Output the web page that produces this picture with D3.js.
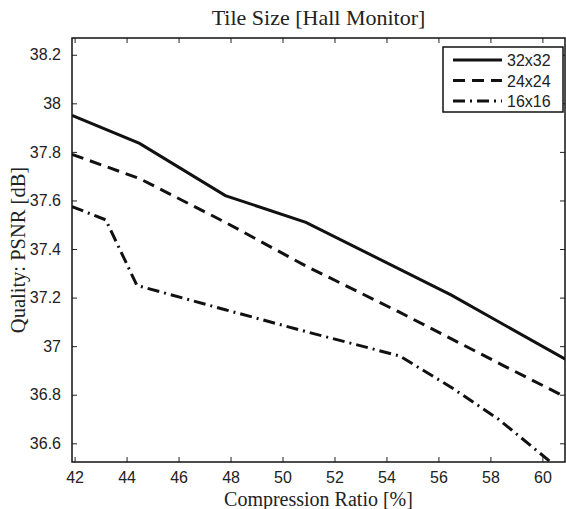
<!DOCTYPE html>
<html>
<head>
<meta charset="utf-8">
<script src="https://cdnjs.cloudflare.com/ajax/libs/d3/7.8.5/d3.min.js"></script>
<style>
  body { margin: 0; background: #fff; }
  .tick text { font-family: "Liberation Sans", Arial, sans-serif; font-size: 16px; fill: #222; }
  .serif { font-family: "Liberation Serif", "Times New Roman", serif; fill: #222; }
</style>
</head>
<body>
<svg id="chart" width="566" height="509"></svg>
<script>
// data
var names = ["32x32", "24x24", "16x16"];
var x32 = [41.9, 44.5, 47.8, 50.9, 56.5, 60.9];
var y32 = [37.95, 37.835, 37.62, 37.51, 37.21, 36.945];
var x24 = [41.9, 44.5, 47.8, 50.9, 54.5, 56.5, 58.5, 60.9];
var y24 = [37.79, 37.69, 37.51, 37.33, 37.14, 37.03, 36.92, 36.79];
var x16 = [41.9, 43.2, 44.4, 47.8, 50.9, 54.5, 56.5, 58.3, 60.3];
var y16 = [37.575, 37.52, 37.25, 37.15, 37.06, 36.96, 36.83, 36.70, 36.525];
var xTicks = [42, 44, 46, 48, 50, 52, 54, 56, 58, 60];
var yTicks = [36.6, 36.8, 37, 37.2, 37.4, 37.6, 37.8, 38, 38.2];

var pl = 72, pr = 565, pt = 38, pb = 462;
var svg = d3.select("#chart");

var x = d3.scaleLinear().domain([41.9, 60.87]).range([pl, pr]);
var y = d3.scaleLinear().domain([36.523, 38.269]).range([pb, pt]);

var dashes = [null, "12,7", "12,5,2,5"];
var series = [
  d3.zip(x32, y32),
  d3.zip(x24, y24),
  d3.zip(x16, y16)
];

svg.append("defs").append("clipPath").attr("id", "clip")
  .append("rect")
  .attr("x", pl).attr("y", pt)
  .attr("width", pr - pl).attr("height", pb - pt);

var line = d3.line().x(d => x(d[0])).y(d => y(d[1]));

svg.append("g").attr("clip-path", "url(#clip)")
  .selectAll("path")
  .data(series)
  .enter()
  .append("path")
  .attr("d", line)
  .attr("fill", "none")
  .attr("stroke", "#111")
  .attr("stroke-width", 3)
  .attr("stroke-dasharray", (d, i) => dashes[i]);

// axes, ticks inward, mirrored on top/right
function styleAxis(g) {
  g.select(".domain").remove();
  g.selectAll(".tick line").attr("stroke", "#222").attr("stroke-width", 1);
}
svg.append("g").attr("transform", "translate(0," + pb + ")")
  .call(d3.axisBottom(x).tickValues(xTicks).tickSize(-5).tickPadding(10).tickFormat(d3.format("d")))
  .call(styleAxis);
svg.append("g").attr("transform", "translate(0," + pt + ")")
  .call(d3.axisTop(x).tickValues(xTicks).tickSize(-5).tickFormat(""))
  .call(styleAxis);
svg.append("g").attr("transform", "translate(" + pl + ",0)")
  .call(d3.axisLeft(y).tickValues(yTicks).tickSize(-5).tickPadding(11).tickFormat(d => d3.format("~g")(d)))
  .call(styleAxis);
svg.append("g").attr("transform", "translate(" + pr + ",0)")
  .call(d3.axisRight(y).tickValues(yTicks).tickSize(-5).tickFormat(""))
  .call(styleAxis);

svg.append("rect")
  .attr("x", pl).attr("y", pt)
  .attr("width", pr - pl).attr("height", pb - pt)
  .attr("fill", "none").attr("stroke", "#111").attr("stroke-width", 1.5);

// titles
svg.append("text").attr("class", "serif")
  .attr("x", (pl + pr) / 2).attr("y", 25)
  .attr("text-anchor", "middle").style("font-size", "22px")
  .text("Tile Size [Hall Monitor]");
svg.append("text").attr("class", "serif")
  .attr("x", (pl + pr) / 2).attr("y", 506)
  .attr("text-anchor", "middle").style("font-size", "20px")
  .text("Compression Ratio [%]");
svg.append("text").attr("class", "serif")
  .attr("transform", "translate(25," + (pt + pb) / 2 + ") rotate(-90)")
  .attr("text-anchor", "middle").style("font-size", "20.5px")
  .text("Quality: PSNR [dB]");

// legend
var lg = svg.append("g").attr("transform", "translate(443,47)");
lg.append("rect").attr("width", 120).attr("height", 65)
  .attr("fill", "#fff").attr("stroke", "#111").attr("stroke-width", 1.5);
names.forEach(function (n, i) {
  var ly = 13 + i * 20.5;
  lg.append("line")
    .attr("x1", 10).attr("x2", 59).attr("y1", ly).attr("y2", ly)
    .attr("stroke", "#111").attr("stroke-width", 3)
    .attr("stroke-dasharray", dashes[i]);
  lg.append("text")
    .attr("x", 64).attr("y", ly + 6)
    .style("font-family", "Liberation Sans, Arial, sans-serif")
    .style("font-size", "16px").attr("fill", "#222")
    .text(n);
});
</script>
</body>
</html>
